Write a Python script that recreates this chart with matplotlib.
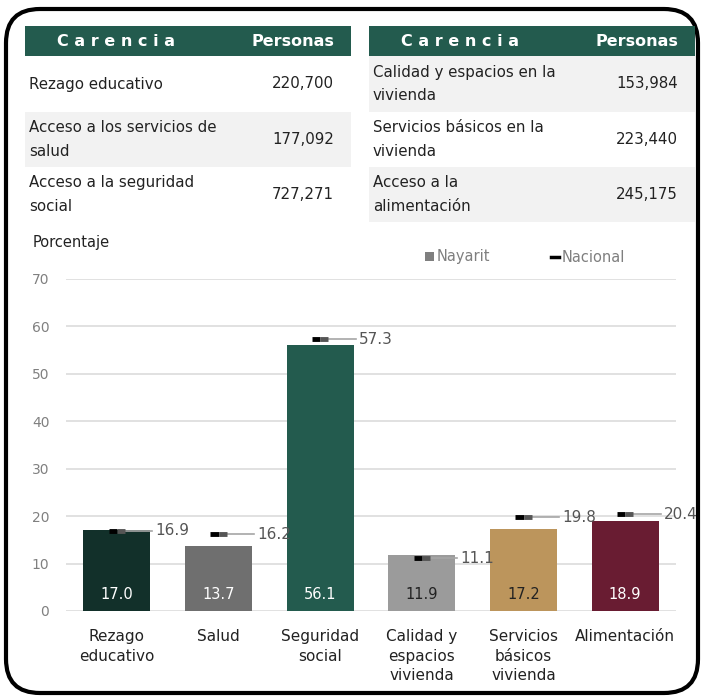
import numpy as np
import matplotlib.pyplot as plt
from matplotlib.patches import FancyBboxPatch, Rectangle

plt.rcParams['font.family'] = ['DejaVu Sans']

# datos de la tabla
tabla_izq = [("Rezago educativo", "220,700"),
             ("Acceso a los servicios de\nsalud", "177,092"),
             ("Acceso a la seguridad\nsocial", "727,271")]
tabla_der = [("Calidad y espacios en la\nvivienda", "153,984"),
             ("Servicios básicos en la\nvivienda", "223,440"),
             ("Acceso a la\nalimentación", "245,175")]

# datos de la grafica
categorias = ["Rezago\neducativo", "Salud", "Seguridad\nsocial",
              "Calidad y\nespacios\nvivienda", "Servicios\nbásicos\nvivienda",
              "Alimentación"]
nayarit = [17.0, 13.7, 56.1, 11.9, 17.2, 18.9]
nacional = [16.9, 16.2, 57.3, 11.1, 19.8, 20.4]
colores = ["#12302a", "#6f6f6f", "#235b4e", "#9b9b9b", "#bc955c", "#691c32"]
color_txt = ["white", "white", "white", "#222222", "#222222", "white"]

verde = "#235b4e"
gris_fila = "#f2f2f2"
W, H = 706, 698

fig = plt.figure(figsize=(W / 100, H / 100), dpi=100)
fondo = fig.add_axes([0, 0, 1, 1])
fondo.set_xlim(0, W)
fondo.set_ylim(H, 0)
fondo.axis('off')

borde = FancyBboxPatch((6, 9), 692, 684, boxstyle="round,pad=0,rounding_size=34",
                       fc="white", ec="black", lw=3)
fondo.add_patch(borde)


def tabla(x0, x1, filas, sombra):
    fondo.add_patch(Rectangle((x0, 26), x1 - x0, 30, fc=verde, ec="none"))
    fondo.text(x0 + 91, 42, "C a r e n c i a", color="white", fontsize=11.5,
               fontweight="bold", ha="center", va="center")
    fondo.text(x1 - 17, 42, "Personas", color="white", fontsize=11.5,
               fontweight="bold", ha="right", va="center")
    ys = [56, 112, 167, 222]
    for i, (txt, val) in enumerate(filas):
        if sombra[i]:
            fondo.add_patch(Rectangle((x0, ys[i]), x1 - x0, ys[i + 1] - ys[i],
                                      fc=gris_fila, ec="none"))
        yc = (ys[i] + ys[i + 1]) / 2
        fondo.text(x0 + 4, yc, txt, fontsize=10.8, color="#222222", ha="left",
                   va="center", linespacing=1.75)
        fondo.text(x1 - 17, yc, val, fontsize=10.8, color="#222222", ha="right",
                   va="center")


tabla(25, 351, tabla_izq, [False, True, False])
tabla(369, 695, tabla_der, [True, False, True])

# grafica
ax = fig.add_axes([66 / W, (H - 611) / H, 610 / W, 332 / H])
x = np.arange(len(categorias))
ax.bar(x, nayarit, width=0.66, color=colores, zorder=2)
ax.set_xlim(-0.5, 5.5)
ax.set_ylim(0, 70)
ax.set_yticks(range(0, 71, 10))
ax.grid(axis='y', color="#dcdcdc", lw=1.2, zorder=0)
for s in ax.spines.values():
    s.set_visible(False)
ax.tick_params(axis='y', length=0, colors="#808080", labelsize=10, pad=12)
ax.tick_params(axis='x', length=0, labelsize=11, colors="#222222", pad=13)
ax.set_xticks(x)
ax.set_xticklabels(categorias, linespacing=1.38)
for lab in ax.get_yticklabels():
    lab.set_color("#808080")

for i in range(len(x)):
    ax.text(x[i], 3.4, "%.1f" % nayarit[i], color=color_txt[i], fontsize=10.5,
            ha="center", va="center", zorder=4)
    ax.plot([x[i] + 0.08, x[i] + 0.35], [nacional[i]] * 2, color="#a6a6a6",
            lw=1.2, zorder=3)
    ax.plot([x[i] - 0.08, x[i]], [nacional[i]] * 2, color="black", lw=3.5,
            solid_capstyle="butt", zorder=4)
    ax.plot([x[i], x[i] + 0.08], [nacional[i]] * 2, color="#555555", lw=3.5,
            solid_capstyle="butt", zorder=4)
    ax.text(x[i] + 0.38, nacional[i], "%.1f" % nacional[i], color="#555555",
            fontsize=11, ha="left", va="center", zorder=4)

fondo.text(33, 242, "Porcentaje", fontsize=10.5, color="#222222", ha="left",
           va="center")
fondo.add_patch(Rectangle((425, 252), 9, 9, fc="#7f7f7f", ec="none"))
fondo.text(437, 257, "Nayarit", fontsize=10.5, color="#7f7f7f", ha="left",
           va="center")
fondo.plot([551, 559], [257, 257], color="black", lw=2.5)
fondo.text(562, 257, "Nacional", fontsize=10.5, color="#7f7f7f", ha="left",
           va="center")

fig.savefig("out.png", dpi=100)
